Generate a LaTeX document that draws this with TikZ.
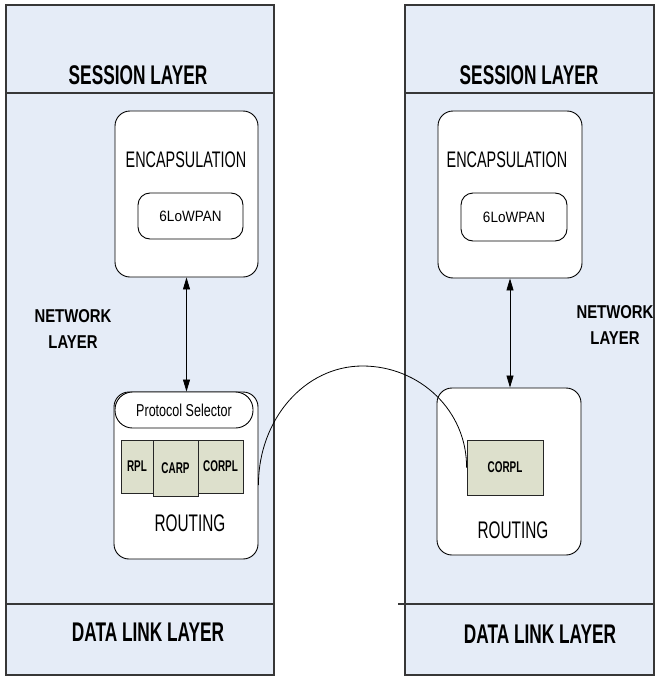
\documentclass[tikz,border=0pt]{standalone}
\usepackage{fontspec}
\setmainfont{Liberation Sans}
\newfontfamily\narrowA[FakeStretch=0.64]{Liberation Sans}
\newfontfamily\narrowM[FakeStretch=0.73]{Liberation Sans}
\newfontfamily\narrowB[FakeStretch=0.80]{Liberation Sans}
\newfontfamily\narrowC[FakeStretch=0.90]{Liberation Sans}
\usetikzlibrary{arrows.meta}
\definecolor{panelblue}{RGB}{229,236,247}
\definecolor{protobox}{RGB}{221,224,204}
\definecolor{paneledge}{RGB}{55,55,55}
\tikzset{
  panel/.style={draw=paneledge, fill=panelblue, line width=1.1pt, inner sep=0pt},
  divider/.style={draw=paneledge, line width=1.1pt},
  softbox/.style={draw=black, fill=white, rounded corners=15pt, line width=0.9pt, inner sep=0pt},
  protobox/.style={draw=black!85, fill=protobox, line width=0.9pt, inner sep=0pt,
    font=\narrowA\bfseries\fontsize{15.5}{17}\selectfont},
  layertitle/.style={font=\narrowA\bfseries\fontsize{27}{30}\selectfont},
  sidetitle/.style={align=center, font=\narrowB\bfseries\fontsize{18.6}{26}\selectfont},
  bigtext/.style={font=\narrowA\fontsize{22.5}{25}\selectfont},
  routetext/.style={font=\narrowA\fontsize{24}{26}\selectfont},
  twoway/.style={line width=0.8pt, {Triangle[length=12pt,width=7pt]}-{Triangle[length=12pt,width=7pt]}},
  hop/.style={line width=0.8pt}
}
\begin{document}
\begin{tikzpicture}[x=1pt, y=-1pt]
\useasboundingbox (0,0) rectangle (659,677);

% the two protocol stacks
\node[panel, minimum width=268pt, minimum height=670pt] (panelL) at (140,340) {};
\node[panel, minimum width=249pt, minimum height=670pt] (panelR) at (529.5,340) {};

% layer boundaries
\draw[divider] (panelL.west |- 0,93) -- (panelL.east |- 0,93);
\draw[divider] (panelL.west |- 0,604) -- (panelL.east |- 0,604);
\draw[divider] (panelR.west |- 0,93) -- (panelR.east |- 0,93);
\coordinate (dlR) at (398,604);
\draw[divider] (dlR) -- (panelR.east |- dlR);

% layer titles
\node[layertitle] (sessL) at (138,75) {SESSION LAYER};
\node[layertitle] (sessR) at (529,75) {SESSION LAYER};
\node[layertitle] (dataL) at (148,632) {DATA LINK LAYER};
\node[layertitle] (dataR) at (540,634) {DATA LINK LAYER};
\node[sidetitle] (netL) at (73,329) {NETWORK\\LAYER};
\node[sidetitle] (netR) at (615,325) {NETWORK\\LAYER};

% ---- left node ----
\node[softbox, minimum width=143pt, minimum height=166pt] (encL) at (186.5,194) {};
\node[bigtext] (encLt) at (186,160) {ENCAPSULATION};
\node[softbox, rounded corners=12pt, minimum width=105pt, minimum height=46pt,
      font=\narrowC\fontsize{15}{17}\selectfont] (lowL) at (190.5,216) {6LoWPAN};

\node[softbox, minimum width=144pt, minimum height=167pt] (routL) at (186,475.5) {};
\node[softbox, rounded corners=17.5pt, minimum width=138pt, minimum height=36pt,
      font=\narrowM\fontsize{17.2}{19}\selectfont] (selL) at (184,410) {Protocol Selector};
\node[protobox, minimum width=32pt, minimum height=53pt] (rplL) at (137,466.5) {RPL};
\node[protobox, minimum width=45pt, minimum height=53pt] (corplL) at (220.5,466.5) {CORPL};
\node[protobox, minimum width=45pt, minimum height=56pt] (carpL) at (175.5,468) {CARP};
\node[routetext] (routLt) at (190,523) {ROUTING};

\draw[twoway] (encL.south) -- (encL.south |- selL.north);

% ---- right node ----
\node[softbox, minimum width=144pt, minimum height=167pt] (encR) at (510,194.5) {};
\node[bigtext] (encRt) at (507,160) {ENCAPSULATION};
\node[softbox, rounded corners=12pt, minimum width=106pt, minimum height=48pt,
      font=\narrowC\fontsize{15}{17}\selectfont] (lowR) at (514,217) {6LoWPAN};

\node[softbox, minimum width=144pt, minimum height=167pt] (routR) at (509,471.5) {};
\node[protobox, minimum width=76pt, minimum height=55pt] (corplR) at (505,467.5) {CORPL};
\node[routetext] (routRt) at (513,530) {ROUTING};

\draw[twoway] (encR.south) -- (encR.south |- routR.north);

% link between the two routing modules
\draw[hop] (routL.east |- 0,485) .. controls +(0,-66) and (305,366) .. (362.5,366)
           .. controls (420,366) and (467,411) .. (corplR.west);
\end{tikzpicture}
\end{document}
